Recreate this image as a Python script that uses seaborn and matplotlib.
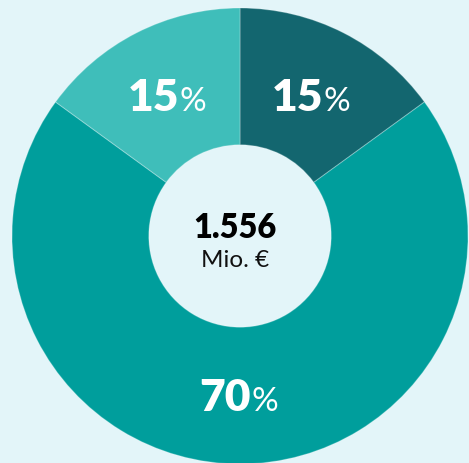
import numpy as np
import matplotlib
matplotlib.use("Agg")
import matplotlib.pyplot as plt
import seaborn as sns

# Data
categories = ["Segment A", "Segment B", "Segment C"]
shares = [15, 70, 15]
colors = ["#13666F", "#009E9C", "#3FBEBA"]
total_value = "1.556"
total_unit = "Mio. €"

bg = "#E3F5F9"

sns.set_style("white")
plt.rcParams["font.family"] = ["Lato", "DejaVu Sans"]
palette = sns.color_palette(colors)

W, H = 469, 464
dpi = 100
fig = plt.figure(figsize=(W / dpi, H / dpi), dpi=dpi, facecolor=bg)

cx, cy, R = 240, 237, 228  # pixel layout of the donut
ax = fig.add_axes([(cx - R) / W, (H - cy - R) / H, 2 * R / W, 2 * R / H])
ax.set_facecolor(bg)

wedges, _ = ax.pie(
    shares,
    colors=palette,
    startangle=90,
    counterclock=False,
    radius=1.0,
    wedgeprops=dict(width=0.6, edgecolor=(1, 1, 1, 0.25), linewidth=0.8),
)
ax.set_xlim(-1, 1)
ax.set_ylim(-1, 1)
ax.axis("off")
for w in wedges:
    w.set_clip_on(False)

# Percentage labels at wedge mid angles
for w, val in zip(wedges, shares):
    ang = np.deg2rad((w.theta1 + w.theta2) / 2)
    r = 0.695
    x, y = r * np.cos(ang), r * np.sin(ang)
    ax.annotate(f"{val}", xy=(x, y), xytext=(8, -11), textcoords="offset points",
                ha="right", va="baseline", fontsize=32, fontweight="heavy",
                color="white", annotation_clip=False)
    ax.annotate("%", xy=(x, y), xytext=(8.5, -11), textcoords="offset points",
                ha="left", va="baseline", fontsize=24, fontweight="normal",
                color="white", annotation_clip=False)

# Center text
ax.annotate(total_value, xy=(0, 0), xytext=(-3.5, -1), textcoords="offset points",
            ha="center", va="baseline", fontsize=23.5, fontweight="heavy", color="black")
ax.annotate(total_unit, xy=(0, 0), xytext=(-3.5, -21.5), textcoords="offset points",
            ha="center", va="baseline", fontsize=17.5, fontweight="normal", color="#111111")

fig.savefig("out.png", dpi=dpi, facecolor=bg)
